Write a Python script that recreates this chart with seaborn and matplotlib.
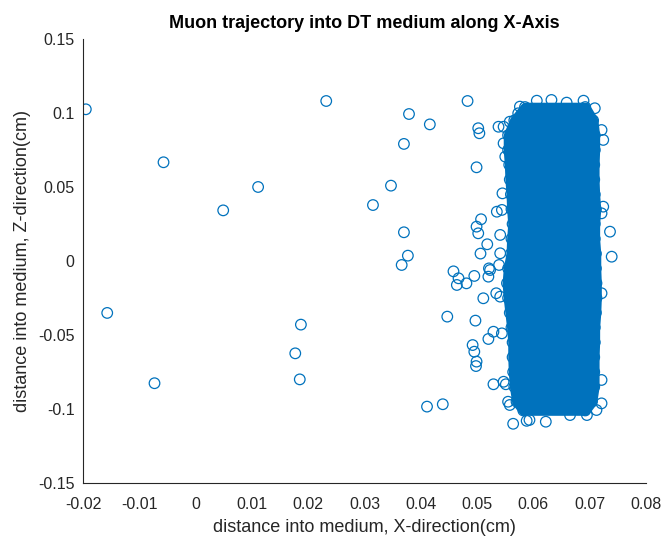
import matplotlib
matplotlib.use("Agg")
import matplotlib.pyplot as plt
import numpy as np
import pandas as pd
import seaborn as sns

# ---------------- data ----------------
# isolated hits, far from the dense band
far_x = [-0.0195, -0.0057, 0.0049, 0.0111, -0.0157, -0.0073, 0.0187, 0.0177, 0.0185,
         0.0232, 0.0379, 0.0416, 0.0370, 0.0483, 0.0347, 0.0315, 0.0370, 0.0377,
         0.0366, 0.0447, 0.0411, 0.0439, 0.0736, 0.0739]
far_z = [0.1025, 0.0667, 0.0342, 0.0500, -0.0351, -0.0826, -0.0430, -0.0624, -0.0800,
         0.1081, 0.0993, 0.0923, 0.0791, 0.1081, 0.0509, 0.0378, 0.0194, 0.0036,
         -0.0027, -0.0376, -0.0984, -0.0968, 0.0198, 0.0029]

# hits just around the dense band
edge_x = [0.0502, 0.0504, 0.0499, 0.0507, 0.0499, 0.0502, 0.0518, 0.0506, 0.0458,
          0.0467, 0.0464, 0.0481, 0.0495, 0.0511, 0.0497, 0.0492, 0.0495, 0.0499,
          0.0498, 0.0529, 0.0538, 0.0547, 0.0558, 0.0573, 0.0547, 0.0550, 0.0545,
          0.0535, 0.0544, 0.0541, 0.0541, 0.0521, 0.0523, 0.0520, 0.0539, 0.0534,
          0.0541, 0.0529, 0.0520, 0.0544, 0.0547, 0.0551, 0.0555, 0.0558, 0.0564,
          0.0588, 0.0593, 0.0622, 0.0665, 0.0695, 0.0712, 0.0721, 0.0721, 0.0721,
          0.0724, 0.0721, 0.0724, 0.0721, 0.0709, 0.0689, 0.0659, 0.0632, 0.0606,
          0.0576]
edge_z = [0.0897, 0.0863, 0.0633, 0.0282, 0.0232, 0.0187, 0.0113, 0.0050, -0.0070,
          -0.0117, -0.0162, -0.0151, -0.0101, -0.0252, -0.0403, -0.0568, -0.0613, -0.0680,
          -0.0710, -0.0833, 0.0907, 0.0907, 0.0941, 0.0998, 0.0795, 0.0705, 0.0457,
          0.0333, 0.0345, 0.0176, 0.0052, -0.0050, -0.0061, -0.0106, -0.0027, -0.0218,
          -0.0241, -0.0478, -0.0527, -0.0489, -0.0816, -0.0833, -0.0951, -0.0973, -0.1100,
          -0.1080, -0.1074, -0.1086, -0.1041, -0.1041, -0.1007, -0.0962, -0.0804, -0.0218,
          0.0367, 0.0322, 0.0818, 0.0885, 0.1032, 0.1083, 0.1070, 0.1088, 0.1083,
          0.1043]

# dense band of hits: outer left / right hit positions per Z level
band_z = [0.104, 0.095, 0.085, 0.075, 0.065, 0.055, 0.045, 0.035, 0.025, 0.015, 0.005,
          -0.005, -0.015, -0.025, -0.035, -0.045, -0.055, -0.065, -0.075, -0.085, -0.095, -0.101]
band_left = [0.0585, 0.0566, 0.0555, 0.0555, 0.0557, 0.0558, 0.0560, 0.0561, 0.0563, 0.0561, 0.0560,
             0.0555, 0.0553, 0.0555, 0.0558, 0.0561, 0.0563, 0.0563, 0.0564, 0.0566, 0.0570, 0.0582]
band_right = [0.0692, 0.0706, 0.0709, 0.0709, 0.0708, 0.0708, 0.0709, 0.0711, 0.0709, 0.0709, 0.0711,
              0.0711, 0.0712, 0.0712, 0.0711, 0.0709, 0.0709, 0.0708, 0.0708, 0.0708, 0.0704, 0.0692]

x_ticks = [-0.02, -0.01, 0, 0.01, 0.02, 0.03, 0.04, 0.05, 0.06, 0.07, 0.08]
x_ticklabels = ["-0.02", "-0.01", "0", "0.01", "0.02", "0.03", "0.04", "0.05", "0.06", "0.07", "0.08"]
y_ticks = [-0.15, -0.1, -0.05, 0, 0.05, 0.1, 0.15]
y_ticklabels = ["-0.15", "-0.1", "-0.05", "0", "0.05", "0.1", "0.15"]

# ---------------- plot ----------------
sns.set_theme(style="white")
plt.rcParams["font.family"] = ["Liberation Sans", "DejaVu Sans"]

BLUE = "#0072BD"
TXT = "#262626"

fig = plt.figure(figsize=(6.63, 5.40), dpi=100)
ax = fig.add_axes([0.1252, 0.1056, 0.8492, 0.8222])

# dense band fill (overlapping hits render as a solid region)
ax.fill_betweenx(band_z, band_left, band_right, facecolor=BLUE, edgecolor=BLUE,
                 linewidth=7.0, joinstyle="round", zorder=1)

pts = pd.DataFrame({
    "x": far_x + edge_x + band_left + band_right,
    "z": far_z + edge_z + band_z + band_z,
})
sns.scatterplot(data=pts, x="x", y="z", ax=ax, marker="o", s=58,
                facecolors="none", edgecolors=BLUE, linewidths=0.9, zorder=2)

ax.set_xlim(-0.02, 0.08)
ax.set_ylim(-0.15, 0.15)
ax.set_xticks(x_ticks)
ax.set_xticklabels(x_ticklabels)
ax.set_yticks(y_ticks)
ax.set_yticklabels(y_ticklabels)

for s in ["top", "right"]:
    ax.spines[s].set_visible(False)
for s in ["left", "bottom"]:
    ax.spines[s].set_color(TXT)
    ax.spines[s].set_linewidth(0.8)

ax.tick_params(direction="in", length=4, width=0.8, colors=TXT, labelsize=11.5)
ax.tick_params(axis="x", pad=10)
ax.tick_params(axis="y", pad=6)

ax.set_xlabel("distance into medium, X-direction(cm)", fontsize=13, color=TXT, labelpad=5)
ax.set_ylabel("distance into medium, Z-direction(cm)", fontsize=13, color=TXT, labelpad=5)
ax.set_title("Muon trajectory into DT medium along X-Axis", fontsize=13,
             fontweight="bold", color="black", pad=8)

fig.savefig("out.png", dpi=100, facecolor="white")
